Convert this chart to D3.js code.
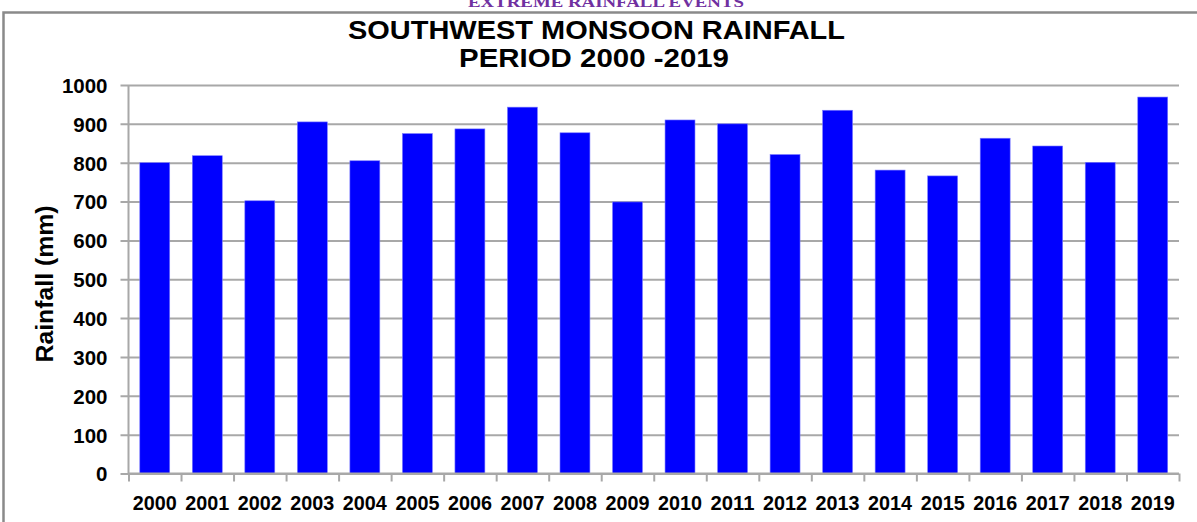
<!DOCTYPE html>
<html><head><meta charset="utf-8">
<script src="https://cdn.jsdelivr.net/npm/d3@7/dist/d3.min.js"></script>
<style>html,body{margin:0;padding:0;background:#fff;overflow:hidden}</style>
</head><body>
<script>
const years = ["2000","2001","2002","2003","2004","2005","2006","2007","2008","2009","2010","2011","2012","2013","2014","2015","2016","2017","2018","2019"];
const rainfall = [800,818,702,905,805,875,887,943,877,699,910,900,821,935,781,766,863,843,801,969];
const yTicks = [0,100,200,300,400,500,600,700,800,900,1000];
const header = "EXTREME RAINFALL EVENTS";
const title1 = "SOUTHWEST MONSOON RAINFALL";
const title2 = "PERIOD 2000 -2019";
const yLabel = "Rainfall (mm)";

const W = 1197, H = 522;
const L = 128.5, R = 1179, T = 85, B = 473.5;
const svg = d3.select("body").append("svg").attr("width", W).attr("height", H);

// header (partially cut, as in the source page)
svg.append("text").attr("x", 606).attr("y", 7).attr("text-anchor", "middle")
  .attr("font-family", "Liberation Serif, Times New Roman, serif").attr("font-weight", "bold")
  .attr("font-size", 15).attr("fill", "#7030A0").attr("textLength", 276).attr("lengthAdjust", "spacingAndGlyphs")
  .text(header);

// outer border
svg.append("path").attr("d", `M3.5,${H} L3.5,12.5 L${W},12.5`).attr("fill", "none")
  .attr("stroke", "#8a8a8a").attr("stroke-width", 2.5);

// titles
svg.append("text").attr("x", 596.5).attr("y", 39).attr("text-anchor", "middle")
  .attr("font-family", "Liberation Sans, Arial, sans-serif").attr("font-weight", "bold")
  .attr("font-size", 26.5).attr("textLength", 497).attr("lengthAdjust", "spacingAndGlyphs")
  .text(title1);
svg.append("text").attr("x", 594).attr("y", 67).attr("text-anchor", "middle")
  .attr("font-family", "Liberation Sans, Arial, sans-serif").attr("font-weight", "bold")
  .attr("font-size", 26.5).attr("textLength", 270).attr("lengthAdjust", "spacingAndGlyphs")
  .text(title2);

const y = d3.scaleLinear().domain([0, 1000]).range([B, T]);
const x = d3.scaleBand().domain(years).range([L, R]).paddingInner(0.43).paddingOuter(0.215);
const xi = d3.scaleLinear().domain([0, years.length]).range([L, R]);

// gridlines + y axis
const yAxis = d3.axisLeft(y).tickValues(yTicks).tickSize(8).tickPadding(13).tickFormat(d3.format("d"));
const gy = svg.append("g").attr("transform", `translate(${L},0)`).call(yAxis);
gy.select(".domain").remove();
gy.selectAll(".tick line").attr("x2", R - L).attr("x1", -8).attr("stroke", "#a8a8a8").attr("stroke-width", 2);
gy.selectAll(".tick text").attr("font-family", "Liberation Sans, Arial, sans-serif").attr("font-weight", "bold")
  .attr("font-size", 20.5).attr("fill", "#000").attr("dy", "0.36em");

// bars
svg.append("g").selectAll("rect").data(years).join("rect")
  .attr("x", d => x(d)).attr("width", x.bandwidth())
  .attr("y", (d, i) => y(rainfall[i])).attr("height", (d, i) => B - y(rainfall[i]))
  .attr("fill", "#0000ff").attr("stroke", "#7a7aff").attr("stroke-width", 0.6);

// vertical axis line
svg.append("line").attr("x1", L).attr("x2", L).attr("y1", T).attr("y2", B)
  .attr("stroke", "#a8a8a8").attr("stroke-width", 2);

// x axis tick marks at category boundaries
const gxt = svg.append("g").attr("transform", `translate(0,${B})`)
  .call(d3.axisBottom(xi).tickValues(d3.range(0, years.length + 1)).tickSize(8).tickFormat(""));
gxt.select(".domain").attr("stroke", "#a8a8a8").attr("stroke-width", 2).attr("d", `M${L},0H${R}`);
gxt.selectAll(".tick line").attr("stroke", "#a8a8a8").attr("stroke-width", 2);

// x labels
const gx = svg.append("g").attr("transform", `translate(0,${B})`)
  .call(d3.axisBottom(x).tickSize(0).tickPadding(22));
gx.select(".domain").remove();
gx.selectAll(".tick text").attr("font-family", "Liberation Sans, Arial, sans-serif").attr("font-weight", "bold")
  .attr("font-size", 20.5).attr("fill", "#000").attr("textLength", 44).attr("lengthAdjust", "spacingAndGlyphs");

// y label
svg.append("text").attr("transform", "translate(53,284) rotate(-90)").attr("text-anchor", "middle")
  .attr("font-family", "Liberation Sans, Arial, sans-serif").attr("font-weight", "bold")
  .attr("font-size", 24).attr("textLength", 157).attr("lengthAdjust", "spacingAndGlyphs").text(yLabel);
</script>
</body></html>
